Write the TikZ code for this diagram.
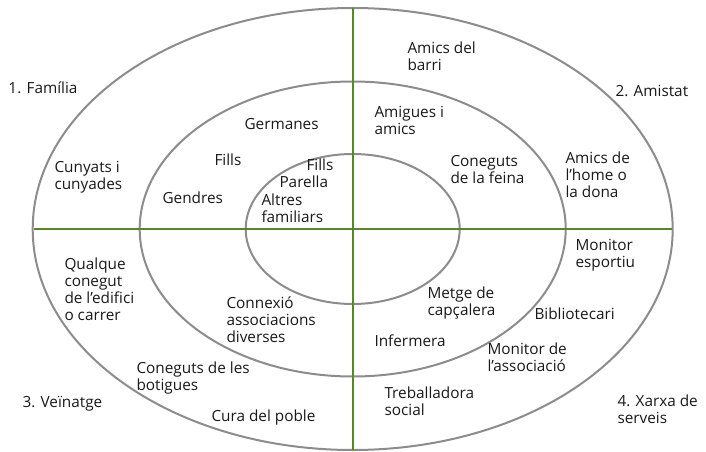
\documentclass[tikz,border=0pt]{standalone}
\usepackage{fontspec}
\setmainfont{Open Sans}
\definecolor{ringGray}{RGB}{140,140,140}
\definecolor{axisGreen}{RGB}{88,135,35}
\tikzset{every picture/.style={line width=0.75pt}}
\tikzset{lbl/.style={anchor=north west,inner sep=0.75pt,align=left,text=black!90,font=\fontsize{11.5}{12.8}\selectfont}}

\begin{document}
\begin{tikzpicture}[x=0.75pt,y=0.75pt,yscale=-1,xscale=1]
\useasboundingbox (0,0) rectangle (706,452);
%Shape: Ellipse [outer ring]
\draw [color=ringGray, line width=1.5pt]  (352.7,229) ellipse [x radius=320, y radius=221];
%Shape: Ellipse [middle ring]
\draw [color=ringGray, line width=1.5pt]  (352.7,229) ellipse [x radius=213, y radius=147.5];
%Shape: Ellipse [inner ring]
\draw [color=ringGray, line width=1.5pt]  (352.7,229) ellipse [x radius=107, y radius=75];
%Axis ends
\coordinate (top) at (352.7,8);
\coordinate (bottom) at (352.7,450);
\coordinate (left) at (33.5,229);
\coordinate (right) at (672,229);
%Shape: Axis cross
\draw [color=axisGreen, line width=1.5pt]  (top) -- (bottom) ;
\draw [color=axisGreen, line width=1.5pt]  (left) -- (right) ;
% Text Node
\draw (7,80) node (familia) [lbl] {1. Família};
% Text Node
\draw (614,84) node (amistat) [lbl] {2. Amistat};
% Text Node
\draw (21,395) node (veinatge) [lbl] {3. Veïnatge};
% Text Node
\draw (616,393) node (xarxa) [lbl] {4. Xarxa de\\serveis};
% Text Node
\draw (53,160) node (cunyats) [lbl] {Cunyats i\\cunyades};
% Text Node
\draw (243,117) node (germanes) [lbl] {Germanes};
% Text Node
\draw (213,152) node (fillsA) [lbl] {Fills};
% Text Node
\draw (161,190) node (gendres) [lbl] {Gendres};
% Text Node
\draw (305,157) node (fillsB) [lbl] {Fills};
% Text Node
\draw (278,174) node (parella) [lbl] {Parella};
% Text Node
\draw (260,192) node (altres) [lbl] {Altres\\familiars};
% Text Node
\draw (406,40) node (barri) [lbl] {Amics del\\barri};
% Text Node
\draw (373,105) node (amigues) [lbl] {Amigues i\\amics};
% Text Node
\draw (449,154) node (feina) [lbl] {Coneguts\\de la feina};
% Text Node
\draw (564,150) node (home) [lbl] {Amics de\\l’home o\\la dona};
% Text Node
\draw (63,256) node (qualque) [lbl] {Qualque\\conegut\\de l’edifici\\o carrer};
% Text Node
\draw (225,295) node (connexio) [lbl] {Connexió\\associacions\\diverses};
% Text Node
\draw (135,360) node (botigues) [lbl] {Coneguts de les\\botigues};
% Text Node
\draw (210,408) node (cura) [lbl] {Cura del poble};
% Text Node
\draw (574,238) node (esportiu) [lbl] {Monitor\\esportiu};
% Text Node
\draw (426,285) node (metge) [lbl] {Metge de\\capçalera};
% Text Node
\draw (533,306) node (biblio) [lbl] {Bibliotecari};
% Text Node
\draw (373,333) node (infermera) [lbl] {Infermera};
% Text Node
\draw (486,341) node (associacio) [lbl] {Monitor de\\l’associació};
% Text Node
\draw (383,385) node (treball) [lbl] {Treballadora\\social};
\end{tikzpicture}
\end{document}
